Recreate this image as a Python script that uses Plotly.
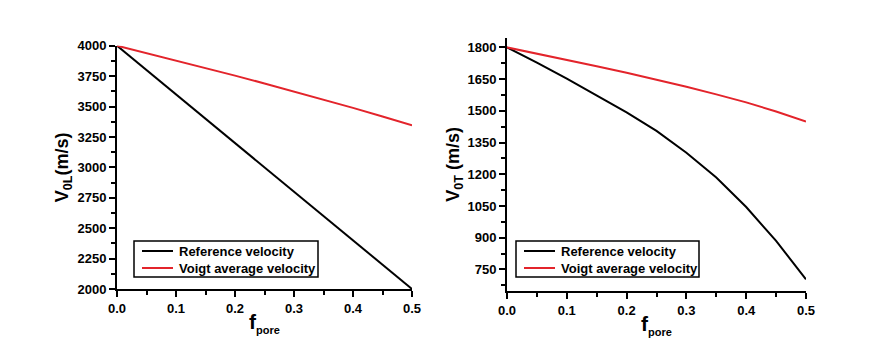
import plotly.graph_objects as go

f_pore = [0.0, 0.05, 0.1, 0.15, 0.2, 0.25, 0.3, 0.35, 0.4, 0.45, 0.5]

# Left panel: V0L (m/s)
vl_reference = [4000, 3800, 3600, 3400, 3200, 3000, 2800, 2600, 2400, 2200, 2000]
vl_voigt = [4000, 3940, 3879, 3817, 3754, 3690, 3625, 3558, 3489, 3418, 3345]

# Right panel: V0T (m/s)
vt_reference = [1800, 1728, 1652, 1574, 1493, 1405, 1302, 1185, 1045, 885, 703]
vt_voigt = [1800, 1771, 1741, 1711, 1680, 1648, 1614, 1578, 1540, 1497, 1450]

series_names = ["Reference velocity", "Voigt average velocity"]
x_ticks = [0.0, 0.1, 0.2, 0.3, 0.4, 0.5]
x_ticklabels = ["0.0", "0.1", "0.2", "0.3", "0.4", "0.5"]
yl_ticks = [2000, 2250, 2500, 2750, 3000, 3250, 3500, 3750, 4000]
yt_ticks = [750, 900, 1050, 1200, 1350, 1500, 1650, 1800]

BLACK = "#000000"
RED = "#e3242b"
COLORS = [BLACK, RED]
FONT = "Liberation Sans, Arial, sans-serif"
W, H = 895, 351

fig = go.Figure()
fig.add_trace(go.Scatter(x=f_pore, y=vl_reference, mode="lines", name=series_names[0],
                         line=dict(color=BLACK, width=2), xaxis="x", yaxis="y", showlegend=False))
fig.add_trace(go.Scatter(x=f_pore, y=vl_voigt, mode="lines", name=series_names[1],
                         line=dict(color=RED, width=2), xaxis="x", yaxis="y", showlegend=False))
fig.add_trace(go.Scatter(x=f_pore, y=vt_reference, mode="lines", name=series_names[0],
                         line=dict(color=BLACK, width=2), xaxis="x2", yaxis="y2", showlegend=False))
fig.add_trace(go.Scatter(x=f_pore, y=vt_voigt, mode="lines", name=series_names[1],
                         line=dict(color=RED, width=2), xaxis="x2", yaxis="y2", showlegend=False))

tickfont = dict(family=FONT, size=13, color="black", weight="bold")
common_axis = dict(showline=True, linecolor="black", linewidth=2, ticks="outside",
                   ticklen=6, tickwidth=1.5, tickcolor="black", showgrid=False,
                   zeroline=False, tickfont=tickfont, fixedrange=True, automargin=False)

xtitle = dict(text="f<sub><span style='font-size:11px'>pore</span></sub>",
              font=dict(family=FONT, size=21, color="black", weight="bold"), standoff=0)

fig.update_layout(
    template="none",
    width=W, height=H,
    margin=dict(l=0, r=0, t=0, b=0, autoexpand=False),
    paper_bgcolor="white", plot_bgcolor="white",
    showlegend=False,
    xaxis=dict(domain=[117/W, 412/W], range=[0, 0.5], anchor="y",
               tickvals=x_ticks, ticktext=x_ticklabels, title=xtitle,
               minor=dict(dtick=0.05, tick0=0, ticks="outside", ticklen=4, tickwidth=1.5, tickcolor="black"),
               **common_axis),
    yaxis=dict(domain=[62/H, 305.3/H], range=[2000, 4000], anchor="x",
               tickvals=yl_ticks,
               title=dict(text="V<sub>0L</sub>(m/s)", font=dict(family=FONT, size=18, color="black", weight="bold"), standoff=4),
               minor=dict(dtick=125, tick0=2000, ticks="outside", ticklen=4, tickwidth=1.5, tickcolor="black"),
               **common_axis),
    xaxis2=dict(domain=[507/W, 806/W], range=[0, 0.5], anchor="y2",
                tickvals=x_ticks, ticktext=x_ticklabels, title=xtitle,
                minor=dict(dtick=0.05, tick0=0, ticks="outside", ticklen=4, tickwidth=1.5, tickcolor="black"),
                **common_axis),
    yaxis2=dict(domain=[60/H, 313.3/H], range=[648, 1846], anchor="x2",
                tickvals=yt_ticks,
                title=dict(text="V<sub>0T</sub> (m/s)", font=dict(family=FONT, size=18, color="black", weight="bold"), standoff=3),
                minor=dict(dtick=75, tick0=750, ticks="outside", ticklen=4, tickwidth=1.5, tickcolor="black"),
                **common_axis),
)

# Legend boxes (one per panel), drawn in paper coordinates
legend_boxes = [(134, 241, 318, 277), (516, 241, 699, 277)]  # left, top, right, bottom in px
for (bx0, by0, bx1, by1) in legend_boxes:
    fig.add_shape(type="rect", xref="paper", yref="paper",
                  x0=bx0/W, x1=bx1/W, y0=1-by0/H, y1=1-by1/H,
                  line=dict(color="black", width=1.5), fillcolor="white", layer="above")
    for i, (name, col) in enumerate(zip(series_names, COLORS)):
        yc = by0 + 10 + i * 17
        fig.add_shape(type="line", xref="paper", yref="paper",
                      x0=(bx0 + 8)/W, x1=(bx0 + 39)/W, y0=1-yc/H, y1=1-yc/H,
                      line=dict(color=col, width=2), layer="above")
        fig.add_annotation(xref="paper", yref="paper", x=(bx0 + 43)/W, y=1-yc/H,
                           xanchor="left", yanchor="middle", showarrow=False, text=name,
                           font=dict(family=FONT, size=13, color="black", weight="bold"))

fig.write_html("out.html", config={"displayModeBar": False})
